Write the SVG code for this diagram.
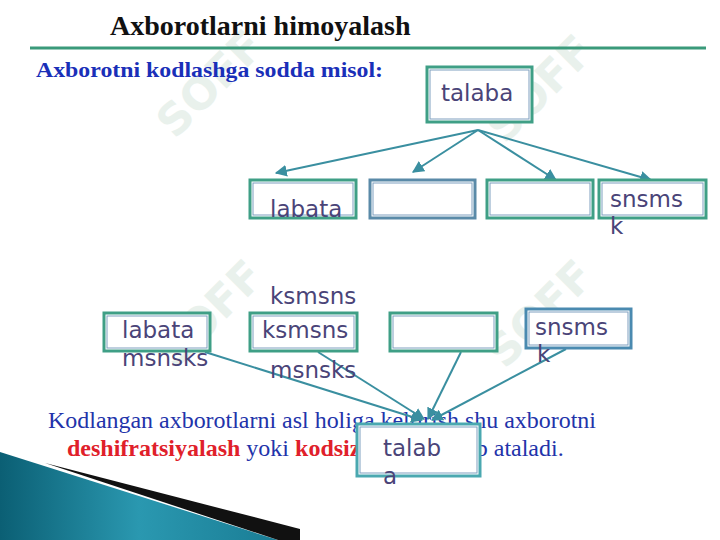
<svg xmlns="http://www.w3.org/2000/svg" width="720" height="540" viewBox="0 0 720 540">
<style>
.ser{font-family:"Liberation Serif","Times New Roman",serif}
.lbl{font-family:"DejaVu Sans",Verdana,sans-serif;font-size:23px;fill:#4a4478}
.box{fill:#ffffff;stroke:#3f9f86;stroke-width:3}
.inner{fill:none;stroke:#7f9fbf;stroke-width:1}
.con{fill:none;stroke:#3a8fa0;stroke-width:2}
.wm{font-family:"DejaVu Sans",sans-serif;font-weight:bold;font-size:44px;fill:#e9f1ec}
</style>
<defs>
<marker id="ah" viewBox="0 0 10 10" refX="9" refY="5" markerWidth="6" markerHeight="6" orient="auto">
<path d="M0,0 L10,5 L0,10 z" fill="#3a8fa0"/>
</marker>
<linearGradient id="tg" x1="0" y1="0" x2="1" y2="0">
<stop offset="0" stop-color="#0b5f74"/>
<stop offset="0.5" stop-color="#2a98b0"/>
<stop offset="1" stop-color="#1a7d95"/>
</linearGradient>
</defs>
<rect width="720" height="540" fill="#ffffff"/>
<g id="watermark">
<text class="wm" transform="translate(175,140) rotate(-45)">SOFF</text>
<text class="wm" transform="translate(505,145) rotate(-45)">SOFF</text>
<text class="wm" transform="translate(175,370) rotate(-45)">SOFF</text>
<text class="wm" transform="translate(505,370) rotate(-45)">SOFF</text>
</g>
<g id="decoration">
<polygon points="0,452 278,540 0,540" fill="url(#tg)"/>
<polygon points="45,463 300,529 300,540 278,540" fill="#111111"/>
</g>
<g id="header">
<text class="ser" x="110" y="35" font-size="28" font-weight="bold" fill="#111111">Axborotlarni himoyalash</text>
<line x1="30" y1="48" x2="706" y2="48" stroke="#3a9a7a" stroke-width="3"/>
<text class="ser" x="36" y="77" font-size="22" font-weight="bold" fill="#1a2fb8" textLength="347" lengthAdjust="spacingAndGlyphs">Axborotni kodlashga sodda misol:</text>
</g>
<g id="body-text" class="ser" font-size="24">
<text x="48" y="428" fill="#2233aa" textLength="548" lengthAdjust="spacingAndGlyphs">Kodlangan axborotlarni asl holiga keltirish shu axborotni</text>
<text x="67" y="456"><tspan font-weight="bold" fill="#e0202a">deshifratsiyalash</tspan><tspan fill="#2233aa"> yoki </tspan><tspan font-weight="bold" fill="#e0202a">kodsizlantirish</tspan><tspan fill="#2233aa"> deb ataladi.</tspan></text>
</g>
<g id="connectors">
<line class="con" x1="478" y1="130" x2="276" y2="173" marker-end="url(#ah)"/>
<line class="con" x1="478" y1="130" x2="413" y2="172" marker-end="url(#ah)"/>
<line class="con" x1="478" y1="130" x2="556" y2="180" marker-end="url(#ah)"/>
<line class="con" x1="478" y1="130" x2="651" y2="180" marker-end="url(#ah)"/>
<line class="con" x1="205" y1="352" x2="422" y2="420" marker-end="url(#ah)"/>
<line class="con" x1="318" y1="352" x2="424" y2="419" marker-end="url(#ah)"/>
<line class="con" x1="461" y1="352" x2="428" y2="419" marker-end="url(#ah)"/>
<line class="con" x1="566" y1="349" x2="432" y2="420" marker-end="url(#ah)"/>
</g>
<g id="n-talaba">
<rect class="box" x="427" y="67" width="105" height="55"/>
<rect class="inner" x="430" y="70" width="99" height="49"/>
<text class="lbl" x="441" y="101">talaba</text>
</g>
<g id="n-r1-labata">
<rect class="box" x="250" y="180" width="106" height="38"/>
<rect class="inner" x="253" y="183" width="100" height="32"/>
<text class="lbl" x="270" y="217" font-size="19" fill="#6a3a8a">labata</text>
</g>
<g id="n-r1-empty1">
<rect class="box" x="370" y="180" width="105" height="38" style="stroke:#5a8aa8"/>
<rect class="inner" x="373" y="183" width="99" height="32"/>
</g>
<g id="n-r1-empty2">
<rect class="box" x="487" y="180" width="106" height="38"/>
<rect class="inner" x="490" y="183" width="100" height="32"/>
</g>
<g id="n-r1-snsmsk">
<rect class="box" x="599" y="180" width="107" height="38"/>
<rect class="inner" x="602" y="183" width="101" height="32"/>
<text class="lbl" x="610" y="207">snsms</text>
<text class="lbl" x="610" y="234">k</text>
</g>
<g id="n-r2-labata">
<rect class="box" x="104" y="313" width="106" height="38"/>
<rect class="inner" x="107" y="316" width="100" height="32"/>
<text class="lbl" x="122" y="338">labata</text>
<text class="lbl" x="122" y="366">msnsks</text>
</g>
<g id="n-r2-ksmsns">
<rect class="box" x="250" y="313" width="107" height="38"/>
<rect class="inner" x="253" y="316" width="101" height="32"/>
<text class="lbl" x="270" y="304" font-size="19">ksmsns</text>
<text class="lbl" x="262" y="338">ksmsns</text>
<text class="lbl" x="270" y="378">msnsks</text>
</g>
<g id="n-r2-empty">
<rect class="box" x="390" y="313" width="107" height="38"/>
<rect class="inner" x="393" y="316" width="101" height="32"/>
</g>
<g id="n-r2-snsmsk">
<rect class="box" x="526" y="309" width="105" height="39" style="stroke:#4a8ab0"/>
<rect class="inner" x="529" y="312" width="99" height="33"/>
<text class="lbl" x="535" y="335">snsms</text>
<text class="lbl" x="537" y="362">k</text>
</g>
<g id="n-bottom-talaba">
<rect class="box" x="357" y="424" width="123" height="52" style="stroke:#4aa8b0"/>
<rect class="inner" x="360" y="427" width="117" height="46"/>
<text class="lbl" x="383" y="456">talab</text>
<text class="lbl" x="383" y="484">a</text>
</g>
</svg>
